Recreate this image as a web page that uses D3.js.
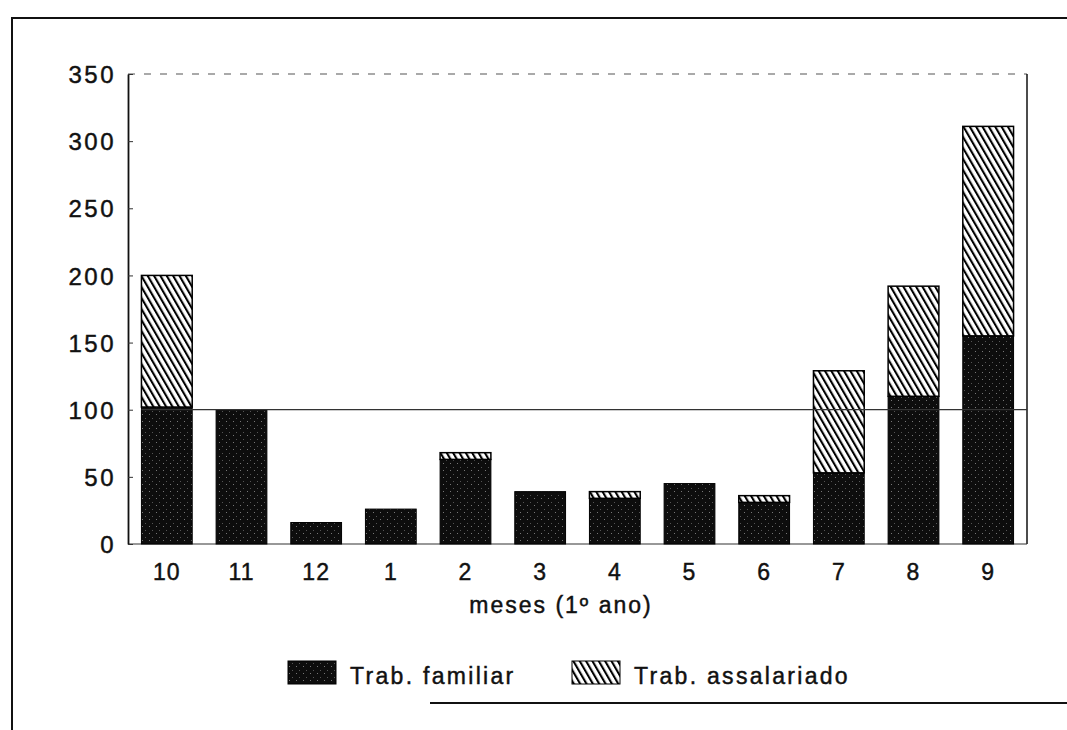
<!DOCTYPE html>
<html>
<head>
<meta charset="utf-8">
<script src="https://cdn.jsdelivr.net/npm/d3@7"></script>
<style>
  body { margin: 0; background: #fff; }
  text { font-family: "Liberation Sans", Arial, sans-serif; fill: #111; stroke: #111; stroke-width: 0.45px; }
</style>
</head>
<body>
<div id="chart"></div>
<script>
// data
const months = ["10", "11", "12", "1", "2", "3", "4", "5", "6", "7", "8", "9"]
const familiar = [102, 100, 16, 26, 63, 39, 34, 45, 31, 53, 110, 155]
const assalariado = [98, 0, 0, 0, 5, 0, 5, 0, 5, 76, 82, 156]
const yTicks = [0, 50, 100, 150, 200, 250, 300, 350]
const seriesNames = ["Trab. familiar", "Trab. assalariado"]
const refValue = 100

const width = 1067
const height = 730
const plotLeft = 128, plotRight = 1027, plotTop = 74, plotBottom = 544

const svg = d3.select("#chart")
  .append("svg")
  .attr("width", width)
  .attr("height", height)

const defs = svg.append("defs")

// dark halftone fill
const dark = defs.append("pattern")
  .attr("id", "dark")
  .attr("patternUnits", "userSpaceOnUse")
  .attr("width", 7)
  .attr("height", 7)
dark.append("rect").attr("width", 7).attr("height", 7).attr("fill", "#0d0d0d")
dark.append("rect").attr("x", 2).attr("y", 1).attr("width", 1).attr("height", 1).attr("fill", "#777")
dark.append("rect").attr("x", 5).attr("y", 5).attr("width", 1).attr("height", 1).attr("fill", "#555")

// diagonal hatch
const hatch = defs.append("pattern")
  .attr("id", "hatch")
  .attr("patternUnits", "userSpaceOnUse")
  .attr("width", 5.5)
  .attr("height", 10)
  .attr("patternTransform", "rotate(-30)")
hatch.append("rect").attr("width", 5.5).attr("height", 10).attr("fill", "#fff")
hatch.append("line")
  .attr("x1", 1).attr("x2", 1).attr("y1", 0).attr("y2", 10)
  .attr("stroke", "#000").attr("stroke-width", 2.2)

// outer frame of the figure
svg.append("path")
  .attr("d", `M12,730 L12,18 L1067,18`)
  .attr("fill", "none").attr("stroke", "#111").attr("stroke-width", 2)
svg.append("line")
  .attr("x1", 430).attr("x2", 1067).attr("y1", 703).attr("y2", 703)
  .attr("stroke", "#111").attr("stroke-width", 2)

const xScale = d3.scaleBand()
  .domain(months)
  .range([plotLeft, plotRight])
  .paddingInner(0.32)
  .paddingOuter(0.18)

const yScale = d3.scaleLinear()
  .domain([0, 350])
  .range([plotBottom, plotTop])

// plot frame: dashed top, solid right, baseline
svg.append("line")
  .attr("x1", plotLeft).attr("x2", plotRight)
  .attr("y1", yScale(350)).attr("y2", yScale(350))
  .attr("stroke", "#555").attr("stroke-width", 1.2)
  .attr("stroke-dasharray", "7,9")
svg.append("line")
  .attr("x1", plotRight).attr("x2", plotRight)
  .attr("y1", yScale(350)).attr("y2", yScale(0))
  .attr("stroke", "#111").attr("stroke-width", 1.5)
svg.append("line")
  .attr("x1", plotLeft).attr("x2", plotRight)
  .attr("y1", yScale(0)).attr("y2", yScale(0))
  .attr("stroke", "#333").attr("stroke-width", 1.2)

// y axis
const yAxis = d3.axisLeft(yScale)
  .tickValues(yTicks)
  .tickSize(-5)
  .tickSizeOuter(0)
  .tickPadding(12)

const yG = svg.append("g")
  .attr("transform", `translate(${plotLeft},0)`)
  .call(yAxis)
yG.select(".domain").attr("stroke", "#111").attr("stroke-width", 1.8)
yG.selectAll(".tick line").attr("stroke", "#333")
yG.selectAll("text")
  .attr("fill", "#111")
  .style("font-size", "24px")
  .style("letter-spacing", "2.5px")
  .attr("dy", "0.36em")

// bars
const rows = months.map((m, i) => ({ month: m, fam: familiar[i], ass: assalariado[i] }))

svg.selectAll(".fam")
  .data(rows)
  .enter()
  .append("rect")
  .attr("class", "fam")
  .attr("x", d => xScale(d.month))
  .attr("y", d => yScale(d.fam))
  .attr("width", xScale.bandwidth())
  .attr("height", d => yScale(0) - yScale(d.fam))
  .attr("fill", "url(#dark)")
  .attr("stroke", "#000")
  .attr("stroke-width", 1)

svg.selectAll(".ass")
  .data(rows.filter(d => d.ass > 0))
  .enter()
  .append("rect")
  .attr("class", "ass")
  .attr("x", d => xScale(d.month))
  .attr("y", d => yScale(d.fam + d.ass))
  .attr("width", xScale.bandwidth())
  .attr("height", d => yScale(d.fam) - yScale(d.fam + d.ass))
  .attr("fill", "url(#hatch)")
  .attr("stroke", "#000")
  .attr("stroke-width", 1.5)

// reference line at 100
svg.append("line")
  .attr("x1", xScale(months[0])).attr("x2", plotRight)
  .attr("y1", yScale(refValue)).attr("y2", yScale(refValue))
  .attr("stroke", "#333").attr("stroke-width", 1.2)

// x labels
const xAxis = d3.axisBottom(xScale).tickSize(0).tickPadding(20)
const xG = svg.append("g")
  .attr("transform", `translate(0,${plotBottom})`)
  .call(xAxis)
xG.select(".domain").remove()
xG.selectAll("text")
  .attr("fill", "#111")
  .style("font-size", "23px")
  .style("letter-spacing", "1px")

svg.append("text")
  .attr("x", 561)
  .attr("y", 613)
  .attr("text-anchor", "middle")
  .style("font-size", "23px")
  .style("letter-spacing", "2px")
  .text("meses (1º ano)")

// legend
const legendItems = [
  { name: seriesNames[0], fill: "url(#dark)", x: 288 },
  { name: seriesNames[1], fill: "url(#hatch)", x: 572 }
]
const legend = svg.append("g").attr("id", "legend")
legendItems.forEach(item => {
  legend.append("rect")
    .attr("x", item.x)
    .attr("y", 661)
    .attr("width", 48)
    .attr("height", 23)
    .attr("fill", item.fill)
    .attr("stroke", "#000")
    .attr("stroke-width", 1)
  legend.append("text")
    .attr("x", item.x + 62)
    .attr("y", 684)
    .style("font-size", "23px")
    .style("letter-spacing", "2.3px")
    .text(item.name)
})
</script>
</body>
</html>
